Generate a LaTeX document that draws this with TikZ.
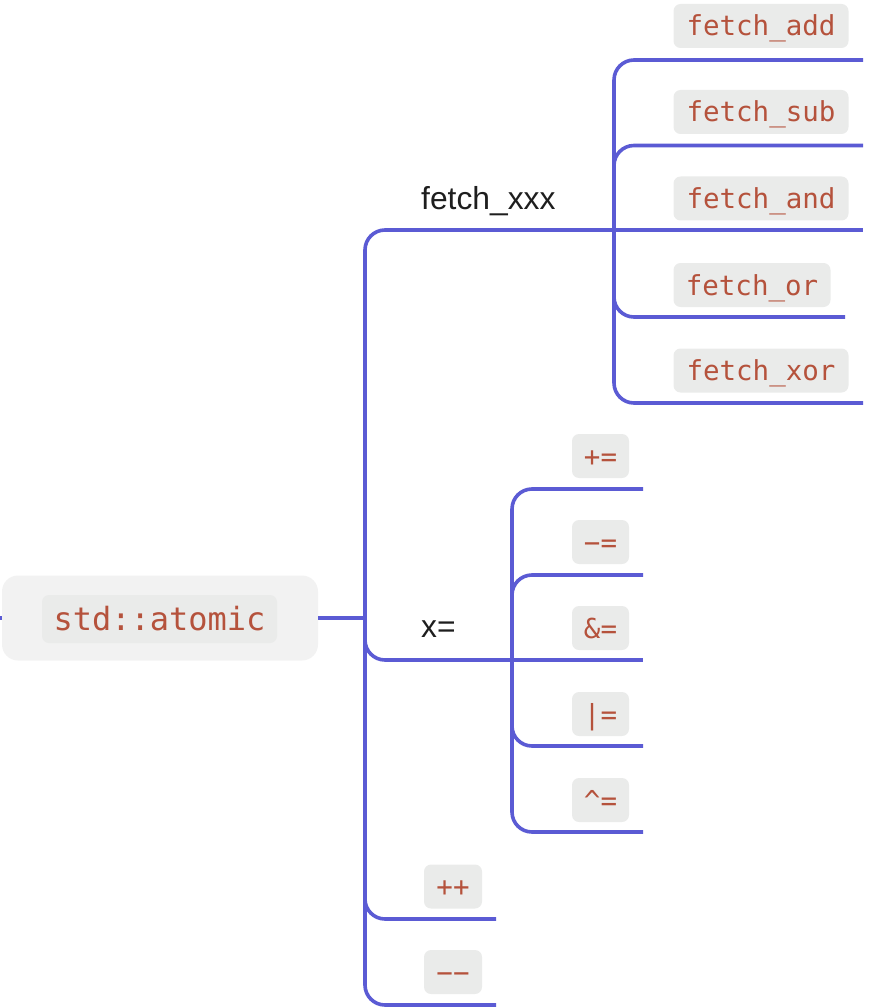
\documentclass[tikz,border=0pt]{standalone}
\usepackage{fontspec}
\setmainfont{Liberation Sans}
\newfontfamily\codefont{DejaVu Sans Mono}
\definecolor{linkc}{HTML}{5B5BD4}
\definecolor{codebg}{HTML}{EAEBEA}
\definecolor{codetxt}{HTML}{B5523C}
\definecolor{rootbg}{HTML}{F2F2F2}
\definecolor{lbltxt}{HTML}{1E1E1E}
\begin{document}
\begin{tikzpicture}[x=1pt,y=-1pt,
  link/.style={draw=linkc, line width=3.6pt, rounded corners=20pt},
  code/.style={fill=codebg, rounded corners=7pt, inner sep=0pt, minimum height=44pt,
    text height=20pt, text depth=0pt, text=codetxt,
    font=\codefont\fontsize{27.5}{30}\selectfont},
  lbl/.style={anchor=base west, inner sep=0pt, text=lbltxt,
    font=\fontsize{31.8}{36}\selectfont}]
\useasboundingbox (0,0) rectangle (872,1008);

% root
\node[fill=rootbg, rounded corners=16pt, minimum width=316pt, minimum height=85pt, inner sep=0pt] (rootbox) at (160,618) {};
\node[code, minimum width=235pt, minimum height=48pt, text height=22pt,
  font=\codefont\fontsize{32}{36}\selectfont] (root) at (159.5,619) {std::atomic};

% branch labels
\node[lbl] (fx) at (421,210) {fetch\_xxx};
\node[lbl] (xe) at (421,637) {x=};

% leaf labels
\node[code, minimum width=175pt] (add) at (761,26) {fetch\_add};
\node[code, minimum width=175pt] (sub) at (761,112) {fetch\_sub};
\node[code, minimum width=175pt] (and) at (761,198.5) {fetch\_and};
\node[code, minimum width=157pt] (or)  at (752,285) {fetch\_or};
\node[code, minimum width=175pt] (xor) at (761,370.5) {fetch\_xor};

\node[code, minimum width=57pt] (pe) at (600.5,456) {+=};
\node[code, minimum width=57pt] (me) at (600.5,542) {−=};
\node[code, minimum width=57pt] (ae) at (600.5,628) {\&=};
\node[code, minimum width=57pt] (oe) at (600.5,714) {|=};
\node[code, minimum width=57pt] (ce) at (600.5,800) {\textasciicircum=};

\node[code, minimum width=58pt] (pp) at (453,886.5) {++};
\node[code, minimum width=58pt] (mm) at (453,972) {−−};

% coordinates of the connector ends
\coordinate (in) at (0,618);
\coordinate (T) at (365,618);
\coordinate (fxE) at (614,230);
\coordinate (xeE) at (512,660);
\coordinate (ppE) at (496,919);
\coordinate (mmE) at (496,1005);
\coordinate (addE) at (863,60);
\coordinate (subE) at (863,145.5);
\coordinate (andE) at (863,230);
\coordinate (orE) at (845,317);
\coordinate (xorE) at (863,403);
\coordinate (peE) at (643,489);
\coordinate (meE) at (643,575);
\coordinate (aeE) at (643,660);
\coordinate (oeE) at (643,746);
\coordinate (ceE) at (643,832);

% connectors
\draw[link] (in) -- (rootbox.west);
\draw[link] (rootbox.east) -- (T);
\draw[link] (T) |- (fxE);
\draw[link] (T) |- (xeE);
\draw[link] (T) |- (ppE);
\draw[link] (T) |- (mmE);

\draw[link] (fxE) |- (addE);
\draw[link] (fxE) |- (subE);
\draw[link] (fxE) -- (andE);
\draw[link] (fxE) |- (orE);
\draw[link] (fxE) |- (xorE);

\draw[link] (xeE) |- (peE);
\draw[link] (xeE) |- (meE);
\draw[link] (xeE) -- (aeE);
\draw[link] (xeE) |- (oeE);
\draw[link] (xeE) |- (ceE);
\end{tikzpicture}
\end{document}
